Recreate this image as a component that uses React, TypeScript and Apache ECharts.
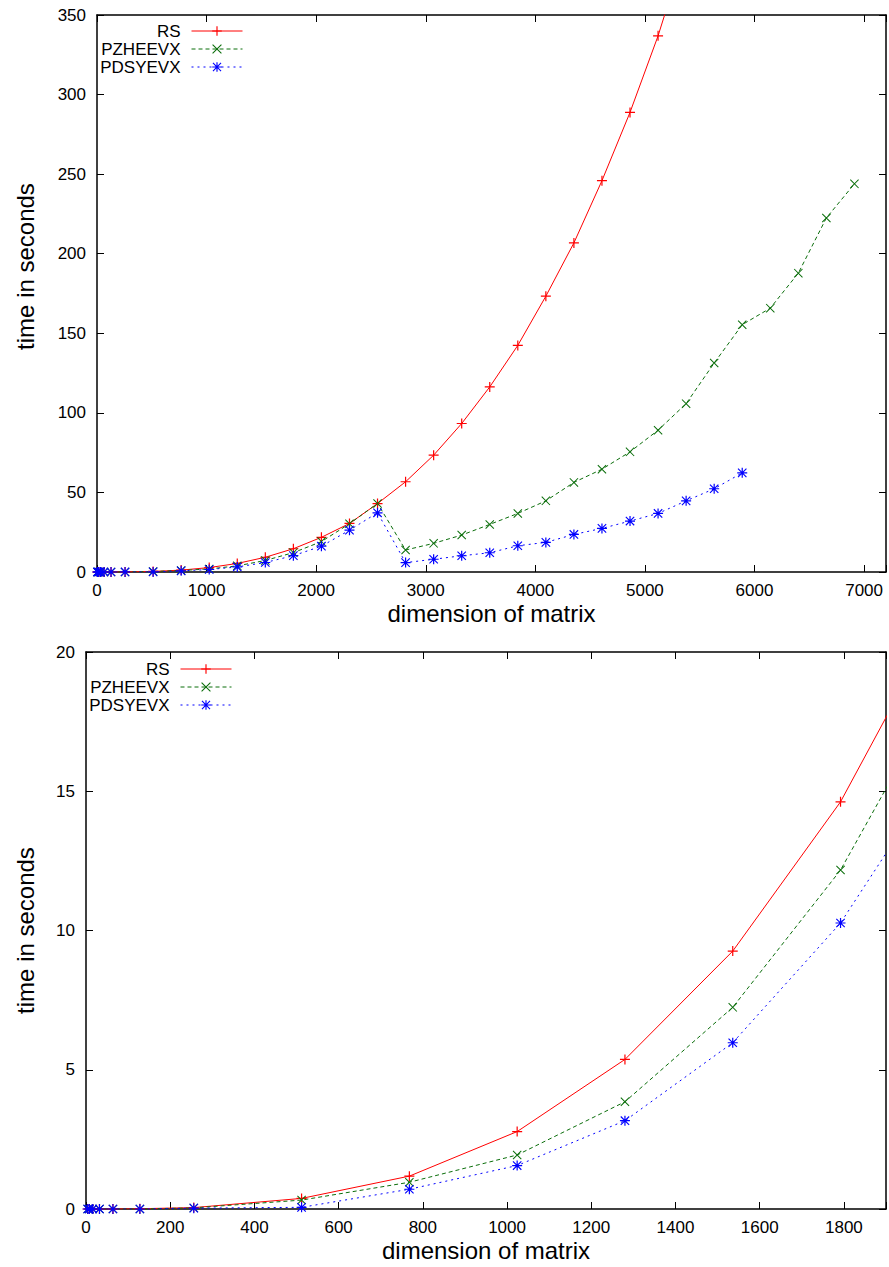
import React, { useEffect, useRef } from "react";
import * as echarts from "echarts";

// Matrix dimensions and timings (seconds)
const rsSizes = [4, 8, 16, 32, 64, 128, 256, 512, 768, 1024, 1280, 1536, 1792, 2048, 2304, 2560, 2816, 3072, 3328, 3584, 3840, 4096, 4352, 4608, 4864, 5120, 5376];
const rsTimes = [0, 0, 0, 0, 0, 0.01, 0.05, 0.38, 1.18, 2.78, 5.37, 9.26, 14.62, 21.8, 30.5, 43.0, 56.7, 73.4, 93.3, 116.3, 142.4, 173.3, 206.8, 245.9, 288.8, 336.9, 393];

const pzSizes = [4, 8, 16, 32, 64, 128, 256, 512, 768, 1024, 1280, 1536, 1792, 2048, 2304, 2560, 2816, 3072, 3328, 3584, 3840, 4096, 4352, 4608, 4864, 5120, 5376, 5632, 5888, 6144, 6400, 6656, 6912];
const pzTimes = [0, 0, 0, 0, 0, 0, 0.04, 0.32, 0.96, 1.94, 3.85, 7.24, 12.17, 19.1, 30.3, 43.1, 13.8, 18.0, 23.2, 29.9, 36.8, 44.7, 56.3, 64.6, 75.5, 89.1, 105.8, 131.3, 155.4, 165.8, 187.8, 222.5, 243.9];

const pdSizes = [4, 8, 16, 32, 64, 128, 256, 512, 768, 1024, 1280, 1536, 1792, 2048, 2304, 2560, 2816, 3072, 3328, 3584, 3840, 4096, 4352, 4608, 4864, 5120, 5376, 5632, 5888];
const pdTimes = [0, 0, 0, 0, 0, 0, 0.03, 0.06, 0.71, 1.56, 3.17, 5.97, 10.27, 16.2, 26.3, 37.2, 5.9, 8.0, 10.2, 12.1, 16.5, 18.6, 23.6, 27.4, 32.0, 36.8, 44.7, 52.3, 62.3];

const seriesNames = ["RS", "PZHEEVX", "PDSYEVX"];

// Axis ranges: [max, interval] for the top and bottom panel
const topX = [7200, 1000];
const topY = [350, 50];
const bottomX = [1900, 200];
const bottomY = [20, 5];

const xTitle = "dimension of matrix";
const yTitle = "time in seconds";

const FONT = "'Liberation Sans', Arial, Helvetica, sans-serif";
const PLUS = "path://M44,0H56V44H100V56H56V100H44V56H0V44H44Z";
const CROSS = "path://M0,8L8,0L100,92L92,100ZM92,0L100,8L8,100L0,92Z";
const STAR = "path://M44,0H56V44H100V56H56V100H44V56H0V44H44ZM4,12L12,4L96,88L88,96ZM88,4L96,12L12,96L4,88Z";

const pairs = (xs: number[], ys: number[]) => xs.map((x, i) => [x, ys[i]]);

export default function App() {
  const ref = useRef<HTMLDivElement>(null);
  useEffect(() => {
    if (!ref.current) return;
    const chart = echarts.init(ref.current, undefined, { renderer: "svg" });

    const grids = [
      { left: 97, top: 15, width: 789, height: 557 },
      { left: 86, top: 652, width: 800, height: 557 },
    ];
    const ranges = [
      { x: topX, y: topY, yGap: 60, yPad: [0, 0, 0, 54] },
      { x: bottomX, y: bottomY, yGap: 49, yPad: [0, 0, 0, 0] },
    ];

    const axisLine = { show: true, onZero: false, lineStyle: { color: "#000", width: 1.5 } };
    const tick = { show: true, inside: true, length: 7, lineStyle: { color: "#000", width: 1 } };
    const label = { color: "#000", fontSize: 17, fontFamily: FONT };

    const xAxis: any[] = [];
    const yAxis: any[] = [];
    ranges.forEach((r, g) => {
      const [xMax, xInt] = r.x;
      const [yMax, yInt] = r.y;
      xAxis.push({
        type: "value", gridIndex: g, position: "bottom", min: 0, max: xMax, interval: xInt,
        axisLine, axisTick: tick, splitLine: { show: false },
        axisLabel: { ...label, margin: 10, formatter: (v: number) => (v % xInt === 0 ? String(v) : "") },
        name: xTitle, nameLocation: "middle", nameGap: 29,
        nameTextStyle: { color: "#000", fontSize: 24, fontFamily: FONT },
      });
      xAxis.push({
        type: "value", gridIndex: g, position: "top", min: 0, max: xMax, interval: xInt,
        axisLine, axisTick: tick, splitLine: { show: false }, axisLabel: { show: false },
      });
      yAxis.push({
        type: "value", gridIndex: g, position: "left", min: 0, max: yMax, interval: yInt,
        axisLine, axisTick: tick, splitLine: { show: false },
        axisLabel: { ...label, margin: 11 },
        name: yTitle, nameLocation: "middle", nameGap: r.yGap, nameRotate: 90,
        nameTextStyle: { color: "#000", fontSize: 24, fontFamily: FONT, padding: r.yPad },
      });
      yAxis.push({
        type: "value", gridIndex: g, position: "right", min: 0, max: yMax, interval: yInt,
        axisLine, axisTick: tick, splitLine: { show: false }, axisLabel: { show: false },
      });
    });

    const defs = [
      { name: seriesNames[0], data: pairs(rsSizes, rsTimes), color: "#ff0000", type: "solid", symbol: PLUS, size: 10 },
      { name: seriesNames[1], data: pairs(pzSizes, pzTimes), color: "#0b6e0b", type: [4, 3], symbol: CROSS, size: 9 },
      { name: seriesNames[2], data: pairs(pdSizes, pdTimes), color: "#0000ff", type: [2, 4], symbol: STAR, size: 10 },
    ];

    const series: any[] = [];
    [0, 1].forEach((g) => {
      defs.forEach((d) => {
        series.push({
          type: "line", name: d.name, xAxisIndex: g * 2, yAxisIndex: g * 2,
          data: d.data, clip: true, showSymbol: true, showAllSymbol: true,
          symbol: d.symbol, symbolSize: d.size,
          lineStyle: { color: d.color, width: 1, type: d.type },
          itemStyle: { color: d.color, borderWidth: 0 },
          emphasis: { disabled: true },
        });
      });
    });

    const legendBase = {
      data: seriesNames, orient: "vertical", align: "right", itemWidth: 51, itemHeight: 12,
      itemGap: 0, selectedMode: false, padding: 5,
      lineStyle: { width: 1 },
      textStyle: { color: "#000", fontSize: 17, fontFamily: FONT, lineHeight: 18, padding: [0, 6, 0, 0] },
    };

    chart.setOption({
      animation: false,
      backgroundColor: "#fff",
      grid: grids,
      xAxis, yAxis, series,
      legend: [
        { ...legendBase, right: 641, top: 17 },
        { ...legendBase, right: 652, top: 655 },
      ],
    });
    return () => chart.dispose();
  }, []);
  return <div ref={ref} style={{ position: "absolute", left: 0, top: 0, width: 889, height: 1267 }} />;
}
